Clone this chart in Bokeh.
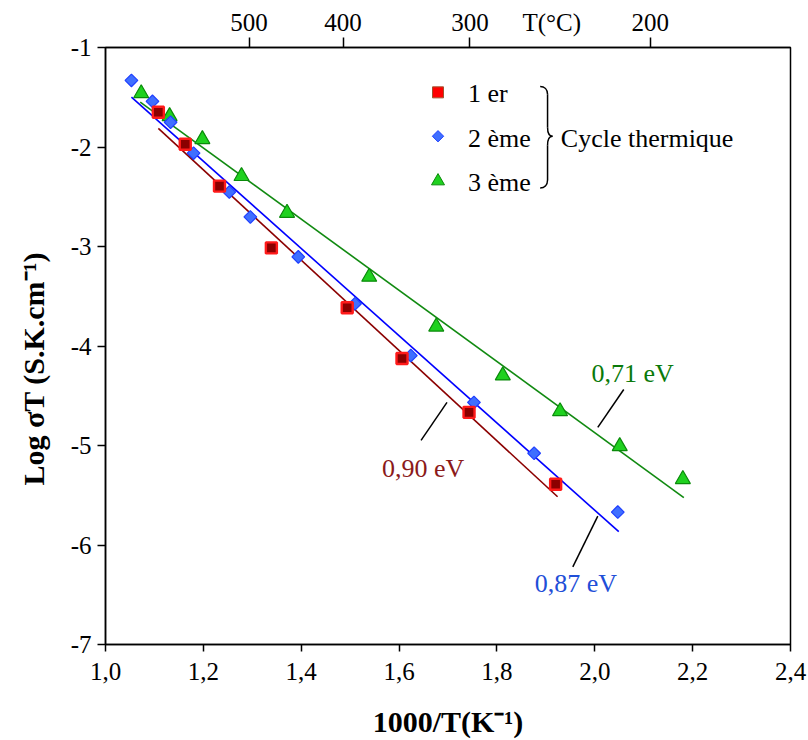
import numpy as np
from bokeh.plotting import figure
from bokeh.models import (Range1d, LinearAxis, FixedTicker, CustomJSTickFormatter, Label, Title)
from bokeh.embed import file_html
from bokeh.resources import INLINE

# ---------------- data ----------------
x_cycle1 = [1.108, 1.163, 1.233, 1.339, 1.494, 1.606, 1.743, 1.920]
y_cycle1 = [-1.651, -1.972, -2.393, -3.014, -3.615, -4.126, -4.667, -5.389]

x_cycle2 = [1.053, 1.096, 1.133, 1.180, 1.253, 1.296, 1.394, 1.510, 1.624, 1.753, 1.876, 2.047]
y_cycle2 = [-1.331, -1.541, -1.751, -2.062, -2.453, -2.703, -3.104, -3.575, -4.096, -4.567, -5.078, -5.669]

x_cycle3 = [1.073, 1.131, 1.198, 1.278, 1.371, 1.539, 1.676, 1.812, 1.929, 2.051, 2.180]
y_cycle3 = [-1.461, -1.691, -1.922, -2.293, -2.663, -3.305, -3.806, -4.297, -4.657, -5.008, -5.339]

# fitted Arrhenius lines (end points)
fit1_x = [1.108, 1.924]
fit1_y = [-1.812, -5.515]
fit2_x = [1.053, 2.049]
fit2_y = [-1.498, -5.866]
fit3_x = [1.071, 2.182]
fit3_y = [-1.548, -5.523]

series_names = ["1 er", "2 ème", "3 ème"]
energy_labels = ["0,90 eV", "0,87 eV", "0,71 eV"]

x_ticks = [1.0, 1.2, 1.4, 1.6, 1.8, 2.0, 2.2, 2.4]
y_ticks = [-7, -6, -5, -4, -3, -2, -1]
top_celsius = [500, 400, 300, 200]
top_ticks = [1000.0 / (t + 273.15) for t in top_celsius]
top_unit_label = "T(°C)"
top_unit_x = 1.912          # where the unit label sits on the top scale

x_title = "1000/T(K⁻¹)"
y_title = "Log σT (S.K.cm⁻¹)"

# ---------------- helpers: reference pixel -> data ----------------
def px(xp):
    return 1.0 + (xp - 104.0) / 490.0

def py(yp):
    return -1.0 - (yp - 47.0) / 99.8

FONT = "'Liberation Serif', 'Times New Roman', Times, serif"

p = figure(width=808, height=740, x_range=Range1d(1.0, 2.4), y_range=Range1d(-7, -1),
           output_backend="svg", toolbar_location=None, title=None,
           x_axis_location=None, y_axis_location=None,
           min_border_left=104, min_border_right=18, min_border_top=47, min_border_bottom=94)
p.xgrid.visible = False
p.ygrid.visible = False
p.outline_line_color = "black"
p.outline_line_width = 1.5
p.background_fill_color = "white"
p.border_fill_color = "white"

def style_axis(ax, tick_out):
    ax.axis_line_color = "black"
    ax.axis_line_width = 1.5
    ax.major_tick_line_color = "black"
    ax.major_tick_line_width = 1.5
    ax.minor_tick_line_color = "black"
    ax.minor_tick_line_width = 1.5
    ax.major_tick_out = tick_out
    ax.major_tick_in = 0
    ax.minor_tick_out = 0
    ax.minor_tick_in = 0
    ax.major_label_text_font = FONT
    ax.major_label_text_font_size = "25px"
    ax.major_label_text_color = "black"

xax = LinearAxis(ticker=FixedTicker(ticks=x_ticks),
                 formatter=CustomJSTickFormatter(code="return tick.toFixed(1).replace('.', ',');"))
style_axis(xax, 7)
xax.major_label_standoff = 11
xax.axis_label = x_title
xax.axis_label_text_font = FONT
xax.axis_label_text_font_size = "30px"
xax.axis_label_text_font_style = "bold"
xax.axis_label_text_color = "black"
xax.axis_label_standoff = 22
p.add_layout(xax, "below")

yax = LinearAxis(ticker=FixedTicker(ticks=y_ticks),
                 formatter=CustomJSTickFormatter(code="return tick.toFixed(0);"))
style_axis(yax, 8)
yax.major_label_standoff = 6
p.add_layout(yax, "left")

# top temperature scale: tick marks are minor ticks, labels are major ticks (incl. unit label)
tax = LinearAxis(ticker=FixedTicker(ticks=top_ticks + [top_unit_x], minor_ticks=top_ticks),
                 formatter=CustomJSTickFormatter(
                     args=dict(ux=top_unit_x, ul=top_unit_label),
                     code="if (Math.abs(tick - ux) < 1e-6) { return ul; } return Math.round(1000/tick - 273.15).toString();"))
style_axis(tax, 0)
tax.minor_tick_out = 10
tax.major_label_standoff = 2
p.add_layout(tax, "above")

# ---------------- fit lines ----------------
p.line(fit1_x, fit1_y, line_color="#8b0000", line_width=1.6)
p.line(fit2_x, fit2_y, line_color="#0000ff", line_width=1.6)
p.line(fit3_x, fit3_y, line_color="#118a11", line_width=1.6)

# ---------------- markers ----------------
p.scatter(x_cycle3, y_cycle3, marker="triangle", size=15, fill_color="#1fd11f",
          line_color="#0a8a0a", line_width=1.2)
p.scatter(x_cycle2, y_cycle2, marker="square", angle=np.pi / 4, size=9, fill_color="#3f6fff",
          line_color="#1f3fff", line_width=1.2)
p.scatter(x_cycle1, y_cycle1, marker="square", size=11, fill_color="#8b0000",
          line_color="#ff1a1a", line_width=2.4)

# ---------------- energy annotations ----------------
p.segment(x0=[px(623), px(446), px(597)], y0=[py(390), py(403), py(517)],
          x1=[px(597), px(420), px(572)], y1=[py(428), py(441), py(568)],
          line_color="black", line_width=1.5)
p.add_layout(Label(x=px(632), y=py(374), text=energy_labels[2], text_font=FONT, text_font_size="26px",
                   text_align="center", text_baseline="middle", text_color="#0a7a0a"))
p.add_layout(Label(x=px(422), y=py(469), text=energy_labels[0], text_font=FONT, text_font_size="26px",
                   text_align="center", text_baseline="middle", text_color="#8b1a1a"))
p.add_layout(Label(x=px(575), y=py(585), text=energy_labels[1], text_font=FONT, text_font_size="26px",
                   text_align="center", text_baseline="middle", text_color="#1f4fd8"))

# ---------------- legend ----------------
leg_x = px(437)
p.scatter([leg_x], [py(92)], marker="square", size=11, fill_color="#ff0000", line_color="#a0522d", line_width=1)
p.scatter([leg_x], [py(136)], marker="square", angle=np.pi / 4, size=8, fill_color="#3f6fff",
          line_color="#1f3fff", line_width=1)
p.scatter([leg_x], [py(181)], marker="triangle", size=13, fill_color="#1fd11f", line_color="#0a8a0a", line_width=1)
for name, yy in zip(series_names, [93, 138, 182]):
    p.add_layout(Label(x=px(467), y=py(yy), text=name, text_font=FONT, text_font_size="26px",
                       text_align="left", text_baseline="middle", text_color="black"))
p.add_layout(Label(x=px(560), y=py(138), text="Cycle thermique", text_font=FONT, text_font_size="26px",
                   text_align="left", text_baseline="middle", text_color="black"))

# brace
p.bezier(x0=[px(539.3), px(546.7), px(551.7), px(546.7)],
         y0=[py(86), py(127), py(136), py(180)],
         x1=[px(546.7), px(551.7), px(546.7), px(539.3)],
         y1=[py(94), py(136), py(145), py(188)],
         cx0=[px(543.5), px(546.7), px(549.0), px(546.7)],
         cy0=[py(86), py(133), py(136), py(185)],
         cx1=[px(546.7), px(549.0), px(546.7), px(543.5)],
         cy1=[py(89), py(136), py(139), py(188)],
         line_color="black", line_width=1.5)
p.segment(x0=[px(546.7), px(546.7)], y0=[py(94), py(145)], x1=[px(546.7), px(546.7)], y1=[py(127), py(180)],
          line_color="black", line_width=1.5)

# ---------------- y axis title ----------------
p.add_layout(Title(text=y_title, align="left", offset=159, standoff=32, vertical_align="top",
                   text_font=FONT, text_font_size="30px", text_font_style="bold", text_color="black"), "left")

open("out.html", "w").write(file_html(p, INLINE))
